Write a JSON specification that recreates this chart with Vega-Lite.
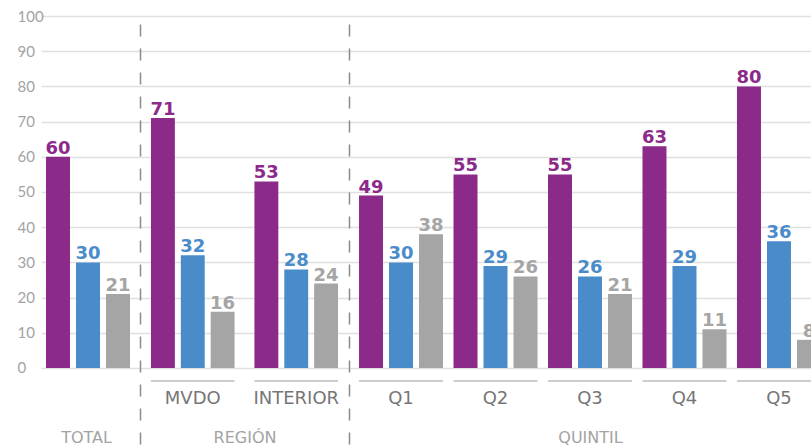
{
  "$schema": "https://vega.github.io/schema/vega-lite/v6.json",
  "padding": {"left": 17, "top": 9, "right": 0, "bottom": 0},
  "spacing": 0,
  "config": {"view": {"stroke": null}, "concat": {"spacing": 0}},
  "resolve": {"scale": {"x": "independent", "xOffset": "independent", "y": "independent", "color": "shared"}},
  "data": {"values": [
    {"section": "TOTAL", "group": "TOTAL", "series": "s1", "value": 60},
    {"section": "TOTAL", "group": "TOTAL", "series": "s2", "value": 30},
    {"section": "TOTAL", "group": "TOTAL", "series": "s3", "value": 21},
    {"section": "REGIÓN", "group": "MVDO", "series": "s1", "value": 71},
    {"section": "REGIÓN", "group": "MVDO", "series": "s2", "value": 32},
    {"section": "REGIÓN", "group": "MVDO", "series": "s3", "value": 16},
    {"section": "REGIÓN", "group": "INTERIOR", "series": "s1", "value": 53},
    {"section": "REGIÓN", "group": "INTERIOR", "series": "s2", "value": 28},
    {"section": "REGIÓN", "group": "INTERIOR", "series": "s3", "value": 24},
    {"section": "QUINTIL", "group": "Q1", "series": "s1", "value": 49},
    {"section": "QUINTIL", "group": "Q1", "series": "s2", "value": 30},
    {"section": "QUINTIL", "group": "Q1", "series": "s3", "value": 38},
    {"section": "QUINTIL", "group": "Q2", "series": "s1", "value": 55},
    {"section": "QUINTIL", "group": "Q2", "series": "s2", "value": 29},
    {"section": "QUINTIL", "group": "Q2", "series": "s3", "value": 26},
    {"section": "QUINTIL", "group": "Q3", "series": "s1", "value": 55},
    {"section": "QUINTIL", "group": "Q3", "series": "s2", "value": 26},
    {"section": "QUINTIL", "group": "Q3", "series": "s3", "value": 21},
    {"section": "QUINTIL", "group": "Q4", "series": "s1", "value": 63},
    {"section": "QUINTIL", "group": "Q4", "series": "s2", "value": 29},
    {"section": "QUINTIL", "group": "Q4", "series": "s3", "value": 11},
    {"section": "QUINTIL", "group": "Q5", "series": "s1", "value": 80},
    {"section": "QUINTIL", "group": "Q5", "series": "s2", "value": 36},
    {"section": "QUINTIL", "group": "Q5", "series": "s3", "value": 8}
  ]},
  "hconcat": [
    {
      "width": 99, "height": 428,
      "transform": [{"filter": "datum.section === 'TOTAL'"}],
      "encoding": {
        "x": {"field": "group", "type": "nominal", "sort": null,
          "scale": {"paddingInner": 0, "paddingOuter": 0.0893, "align": 0.333},
          "axis": {"title": "TOTAL", "labels": false, "ticks": false, "domain": false, "grid": false, "titleY": -2, "titleX": 45, "titleBaseline": "alphabetic", "titleFont": "DejaVu Sans", "titleFontSize": 16, "titleFontWeight": "normal", "titleColor": "#a3a3a3"}}
      },
      "layer": [
        {
          "mark": {"type": "bar"},
          "encoding": {
            "xOffset": {"field": "series", "type": "nominal", "sort": null, "scale": {"paddingInner": 0.2, "paddingOuter": 0}},
            "y": {"field": "value", "type": "quantitative", "scale": {"domain": [-21.6, 100], "nice": false, "zero": false},
              "axis": {"title": null, "values": [0, 10, 20, 30, 40, 50, 60, 70, 80, 90, 100], "ticks": false, "domain": false, "grid": true, "gridColor": "#e0e0e0", "gridWidth": 1.5, "labelAlign": "left", "labelPadding": 24, "labelFont": "Lato", "labelFontSize": 15, "labelColor": "#a3a3a3"}},
            "color": {"field": "series", "type": "nominal", "scale": {"domain": ["s1", "s2", "s3"], "range": ["#8c2a8a", "#4a8bca", "#a5a5a5"]}, "legend": null}
          }
        },
        {
          "mark": {"type": "text", "dy": -3, "baseline": "alphabetic", "font": "DejaVu Sans", "fontSize": 18, "fontWeight": "bold"},
          "encoding": {
            "xOffset": {"field": "series", "type": "nominal", "sort": null, "scale": {"paddingInner": 0.2, "paddingOuter": 0}},
            "y": {"field": "value", "type": "quantitative"},
            "text": {"field": "value", "type": "quantitative"},
            "color": {"field": "series", "type": "nominal", "legend": null}
          }
        }
      ]
    },
    {
      "width": 209, "height": 428,
      "transform": [{"filter": "datum.section === 'REGIÓN'"}],
      "encoding": {
        "x": {"field": "group", "type": "nominal", "sort": null,
          "scale": {"paddingInner": 0.192, "paddingOuter": 0.106},
          "axis": {"title": "REGIÓN", "labels": false, "ticks": false, "domain": false, "grid": false, "titleY": -2, "titleBaseline": "alphabetic", "titleFont": "DejaVu Sans", "titleFontSize": 16, "titleFontWeight": "normal", "titleColor": "#a3a3a3"}}
      },
      "layer": [
        {
          "mark": {"type": "bar"},
          "encoding": {
            "xOffset": {"field": "series", "type": "nominal", "sort": null, "scale": {"paddingInner": 0.2, "paddingOuter": 0}},
            "y": {"field": "value", "type": "quantitative", "scale": {"domain": [-21.6, 100], "nice": false, "zero": false},
              "axis": {"title": null, "values": [0, 10, 20, 30, 40, 50, 60, 70, 80, 90, 100], "labels": false, "ticks": false, "domain": true, "domainColor": "#8a8a8a", "domainWidth": 1.5, "domainDash": [12, 12], "grid": true, "gridColor": "#e0e0e0", "gridWidth": 1.5}},
            "color": {"field": "series", "type": "nominal", "legend": null}
          }
        },
        {
          "mark": {"type": "text", "dy": -3, "baseline": "alphabetic", "font": "DejaVu Sans", "fontSize": 18, "fontWeight": "bold"},
          "encoding": {
            "xOffset": {"field": "series", "type": "nominal", "sort": null, "scale": {"paddingInner": 0.2, "paddingOuter": 0}},
            "y": {"field": "value", "type": "quantitative"},
            "text": {"field": "value", "type": "quantitative"},
            "color": {"field": "series", "type": "nominal", "legend": null}
          }
        },
        {
          "transform": [{"filter": "datum.series === 's1'"}],
          "mark": {"type": "rule", "color": "#9a9a9a", "strokeWidth": 1},
          "encoding": {
            "x": {"field": "group", "type": "nominal", "sort": null, "bandPosition": 0},
            "x2": {"field": "group", "bandPosition": 1},
            "y": {"datum": -3.7}
          }
        },
        {
          "transform": [{"filter": "datum.series === 's1'"}],
          "mark": {"type": "text", "baseline": "middle", "font": "DejaVu Sans", "fontSize": 18, "color": "#767676"},
          "encoding": {
            "text": {"field": "group", "type": "nominal"},
            "y": {"datum": -8.8}
          }
        }
      ]
    },
    {
      "width": 462, "height": 428,
      "transform": [{"filter": "datum.section === 'QUINTIL'"}],
      "encoding": {
        "x": {"field": "group", "type": "nominal", "sort": null,
          "scale": {"paddingInner": 0.111, "paddingOuter": 0.106, "rangeMax": 482},
          "axis": {"title": "QUINTIL", "labels": false, "ticks": false, "domain": false, "grid": false, "titleY": -2, "titleBaseline": "alphabetic", "titleFont": "DejaVu Sans", "titleFontSize": 16, "titleFontWeight": "normal", "titleColor": "#a3a3a3"}}
      },
      "layer": [
        {
          "mark": {"type": "bar", "clip": true},
          "encoding": {
            "xOffset": {"field": "series", "type": "nominal", "sort": null, "scale": {"paddingInner": 0.2, "paddingOuter": 0}},
            "y": {"field": "value", "type": "quantitative", "scale": {"domain": [-21.6, 100], "nice": false, "zero": false},
              "axis": {"title": null, "values": [0, 10, 20, 30, 40, 50, 60, 70, 80, 90, 100], "labels": false, "ticks": false, "domain": true, "domainColor": "#8a8a8a", "domainWidth": 1.5, "domainDash": [12, 12], "grid": true, "gridColor": "#e0e0e0", "gridWidth": 1.5}},
            "color": {"field": "series", "type": "nominal", "legend": null}
          }
        },
        {
          "mark": {"type": "text", "clip": true, "dy": -3, "baseline": "alphabetic", "font": "DejaVu Sans", "fontSize": 18, "fontWeight": "bold"},
          "encoding": {
            "xOffset": {"field": "series", "type": "nominal", "sort": null, "scale": {"paddingInner": 0.2, "paddingOuter": 0}},
            "y": {"field": "value", "type": "quantitative"},
            "text": {"field": "value", "type": "quantitative"},
            "color": {"field": "series", "type": "nominal", "legend": null}
          }
        },
        {
          "transform": [{"filter": "datum.series === 's1'"}],
          "mark": {"type": "rule", "clip": true, "color": "#9a9a9a", "strokeWidth": 1},
          "encoding": {
            "x": {"field": "group", "type": "nominal", "sort": null, "bandPosition": 0},
            "x2": {"field": "group", "bandPosition": 1},
            "y": {"datum": -3.7}
          }
        },
        {
          "transform": [{"filter": "datum.series === 's1'"}],
          "mark": {"type": "text", "clip": true, "baseline": "middle", "font": "DejaVu Sans", "fontSize": 18, "color": "#767676"},
          "encoding": {
            "text": {"field": "group", "type": "nominal"},
            "y": {"datum": -8.8}
          }
        }
      ]
    }
  ]
}
